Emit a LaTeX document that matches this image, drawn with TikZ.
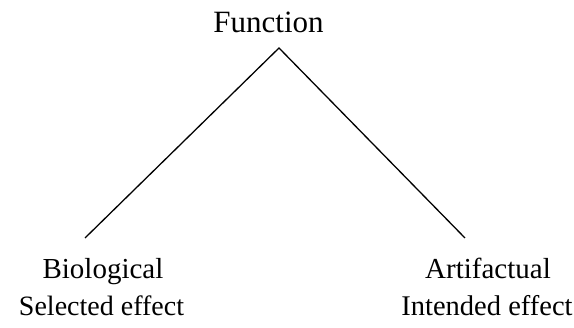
\documentclass[tikz,border=0pt]{standalone}
\usepackage{fontspec}
\setmainfont{Liberation Serif}
\begin{document}
\begin{tikzpicture}[x=1pt,y=-1pt,
  lbl/.style={anchor=base,inner sep=0pt,font=\fontsize{29}{32}\selectfont},
  edge/.style={line width=1.3pt,black}]
\useasboundingbox (0,0) rectangle (574,328);
\node[lbl,font=\fontsize{31}{34}\selectfont] (f) at (268.5,33) {Function};
\coordinate (apex) at (279,48);
\coordinate (lend) at (85,238);
\coordinate (rend) at (465,238);
\node[lbl] (bio) at (103,279) {Biological};
\node[lbl,font=\fontsize{28}{32}\selectfont] (sel) at (101.5,316) {Selected effect};
\node[lbl] (art) at (488,279) {Artifactual};
\node[lbl,font=\fontsize{28.5}{32}\selectfont] (int) at (487,316) {Intended effect};
\draw[edge] (lend) -- (apex) -- (rend);
\end{tikzpicture}
\end{document}
